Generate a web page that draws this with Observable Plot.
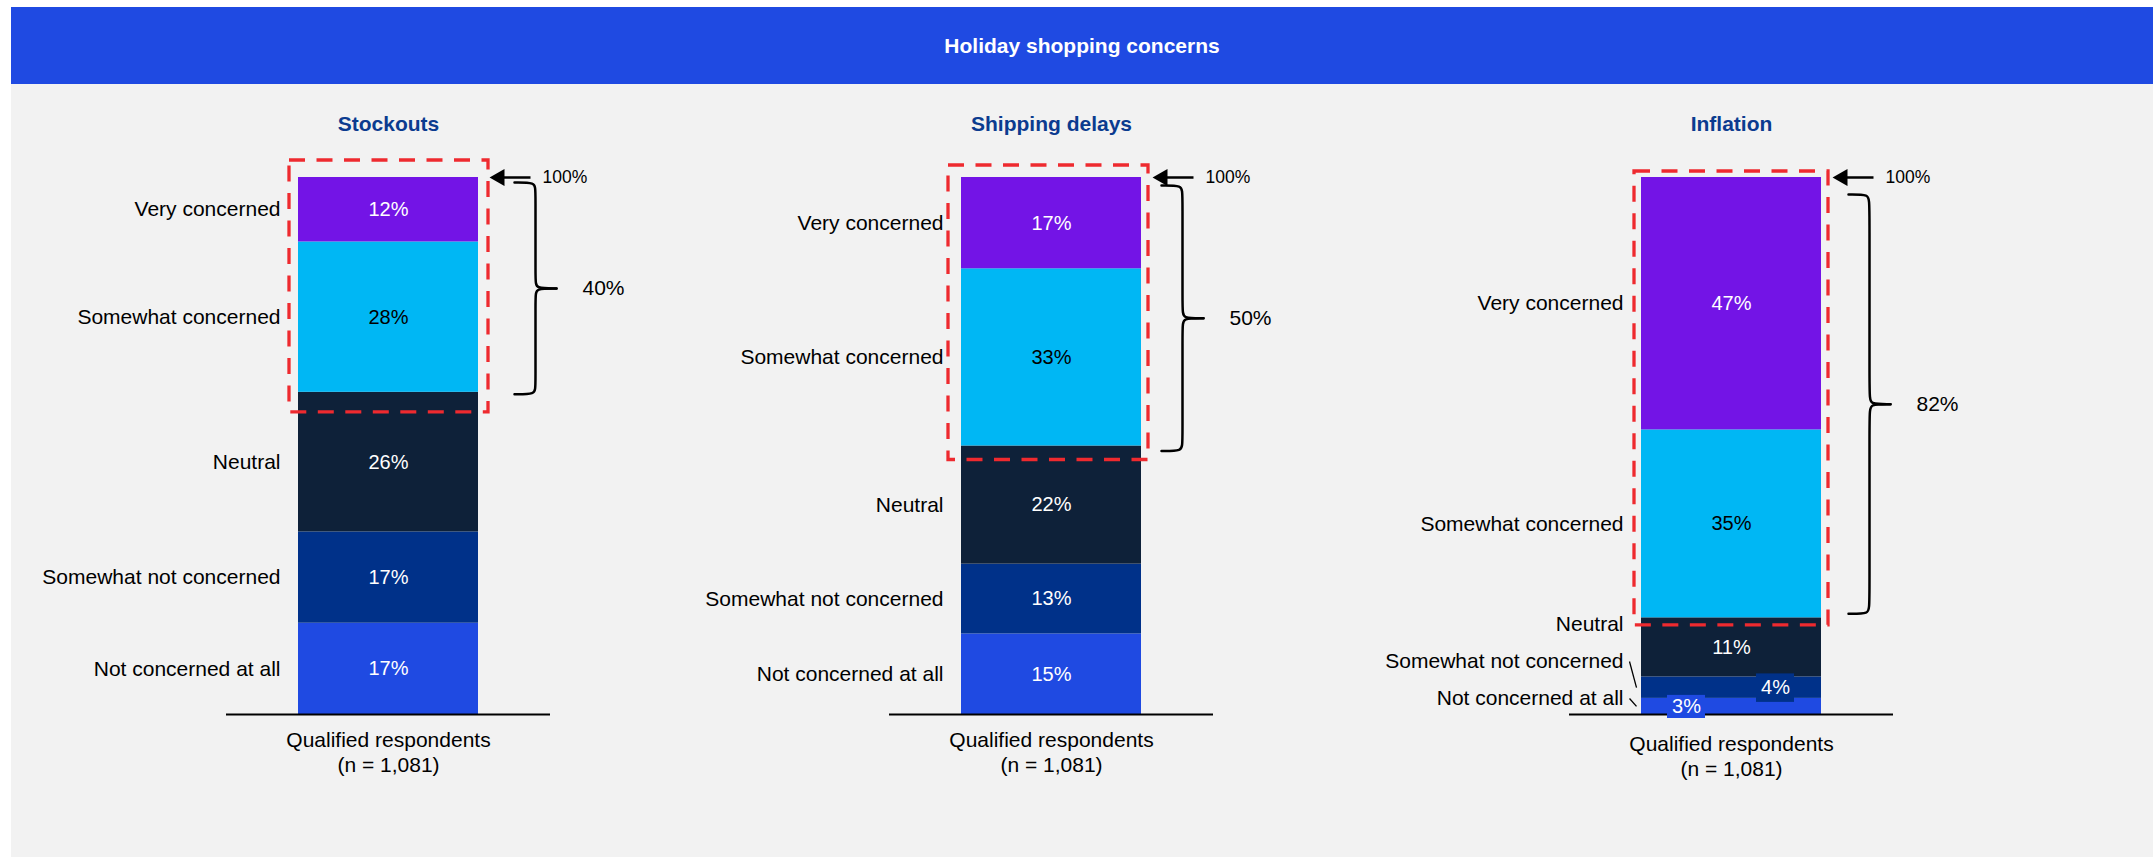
<!DOCTYPE html>
<html>
<head>
<meta charset="utf-8">
<script src="https://cdn.jsdelivr.net/npm/d3@7"></script>
<script src="https://cdn.jsdelivr.net/npm/@observablehq/plot@0.6"></script>
<style>
  html, body { margin: 0; padding: 0; background: #ffffff; }
  body { width: 2153px; height: 858px; overflow: hidden; position: relative;
         font-family: "Liberation Sans", Arial, sans-serif; }
  #frame { position: absolute; left: 11px; top: 7px; width: 2142px; height: 850px; background: #f2f2f2; }
  #header { position: absolute; left: 0; top: 0; width: 2142px; height: 77px; background: #1f4ae2;
            color: #ffffff; font-weight: bold; font-size: 21px;
            display: flex; align-items: center; justify-content: center; }
  .panel { position: absolute; top: 77px; }
  .panel svg { overflow: visible; }
</style>
</head>
<body>
<div id="frame"><div id="header"></div></div>
<script>
// ---------------- data ----------------
const chartTitle = "Holiday shopping concerns";
const topics = ["Stockouts", "Shipping delays", "Inflation"];
const levels = ["Very concerned", "Somewhat concerned", "Neutral", "Somewhat not concerned", "Not concerned at all"];
const stockouts = [12, 28, 26, 17, 17];
const shippingDelays = [17, 33, 22, 13, 15];
const inflation = [47, 35, 11, 4, 3];
const concernedShare = [40, 50, 82];
const baseLabel = "Qualified respondents";
const sampleSizes = ["1,081", "1,081", "1,081"];

// ---------------- styling / layout ----------------
const series = [stockouts, shippingDelays, inflation];
const levelColors = ["#7314e6", "#00b7f4", "#0e2139", "#003189", "#1f4ae2"];
const darkInk = new Set(["Somewhat concerned"]);
const titleColor = "#0b3b8f";
const red = "#ee2a2f";
const FONT = '"Liberation Sans", Arial, sans-serif';
const PANEL_W = 660, PANEL_H = 773;
const M = {top: 93, bottom: 143, left: 270, right: 210};
const BAR = PANEL_W - M.left - M.right;          // bar width in px
const panelLeft = [17, 680, 1360];
const boxInset = [{l: 9, r: 10, t: 17, b: 20}, {l: 13, r: 7, t: 12, b: 14}, {l: 7, r: 7, t: 6, b: 7.5}];
const braceStart = [36, 20, 27];
const braceTopGap = [5, 8, 17];      // px below the 100% line
const braceBottomGap = [-2, -5, 4];  // px above the block boundary
const baseLabelDy = [14.5, 14.5, 18.5];
const smallShift = [44, -45];

document.getElementById("header").textContent = chartTitle;

function panel(p) {
  const values = series[p];
  const total = d3.sum(values);
  const ux = 1 / BAR;                                   // x units per px
  const uy = 100 / (PANEL_H - M.top - M.bottom);        // y units per px

  // rows bottom-first
  const rows = levels.map((level, i) => ({level, value: values[i]})).reverse();
  let acc = 0;
  for (const r of rows) { r.y1 = acc; r.y2 = acc + r.value; r.mid = acc + r.value / 2; acc += r.value; r.small = r.value < 5; }
  // dodge category labels so they keep a minimum spacing
  let prev = -Infinity;
  for (const r of rows) {
    const lo = prev === -Infinity ? 16 * uy : prev + 37 * uy;
    r.labelY = Math.max(r.mid, lo);
    prev = r.labelY;
  }
  const smallRows = rows.filter(r => r.small).reverse(); // top-first
  smallRows.forEach((r, k) => { r.lx = 0.5 + smallShift[k % 2] * ux; });

  const share = concernedShare[p];
  const boundary = total - share;                       // concerned block sits on top
  const bi = boxInset[p];
  const e = 1 + braceStart[p] * ux, v = e + 21 * ux, tip = e + 42 * ux;
  const bTop = total - braceTopGap[p] * uy, bBot = boundary + braceBottomGap[p] * uy;
  const bMid = (bTop + bBot) / 2, rr = 7 * uy;
  const brace = [
    {h: 0, x: e, y: bTop}, {h: 0, x: v, y: bTop}, {h: 0, x: v, y: bTop - rr},
    {h: 0, x: v, y: bMid + rr}, {h: 0, x: v, y: bMid}, {h: 0, x: tip, y: bMid},
    {h: 1, x: tip, y: bMid}, {h: 1, x: v, y: bMid}, {h: 1, x: v, y: bMid - rr},
    {h: 1, x: v, y: bBot + rr}, {h: 1, x: v, y: bBot}, {h: 1, x: e, y: bBot}
  ];

  return Plot.plot({
    width: PANEL_W, height: PANEL_H,
    marginTop: M.top, marginBottom: M.bottom, marginLeft: M.left, marginRight: M.right,
    x: {domain: [0, 1], axis: null},
    y: {domain: [0, 100], axis: null},
    color: {domain: levels, range: levelColors},
    style: {background: "transparent", fontFamily: FONT, overflow: "visible"},
    marks: [
      Plot.rectY(rows, Plot.stackY({x1: 0, x2: 1, y: "value", fill: "level"})),
      Plot.ruleY([0], {x1: -0.4, x2: 1.4, stroke: "#000", strokeWidth: 2}),
      // value labels
      Plot.text(rows.filter(r => !r.small && !darkInk.has(r.level)),
        {x: 0.5, y: "mid", text: d => d.value + "%", fill: "#ffffff", fontSize: 20}),
      Plot.text(rows.filter(r => !r.small && darkInk.has(r.level)),
        {x: 0.5, y: "mid", text: d => d.value + "%", fill: "#000000", fontSize: 20}),
      Plot.rect(smallRows, {x1: d => d.lx - 19 * ux, x2: d => d.lx + 19 * ux, y1: "y1", y2: "y2",
        fill: "level", insetTop: -3, insetBottom: -4}),
      Plot.text(smallRows, {x: "lx", y: "mid", text: d => d.value + "%", fill: "#ffffff", fontSize: 20}),
      // category labels + leaders
      Plot.text(rows, {x: 0, y: "labelY", text: "level", textAnchor: "end", dx: -18, fontSize: 21, fill: "#000"}),
      Plot.link(rows.filter(r => r.small), {x1: -12 * ux, y1: "labelY", x2: -5 * ux, y2: "mid",
        stroke: "#000", strokeWidth: 1.3}),
      // dashed highlight box around the concerned block
      Plot.rect([boundary], {x1: 0, x2: 1, y1: d => d, y2: total,
        insetLeft: -bi.l, insetRight: -bi.r, insetTop: -bi.t, insetBottom: -bi.b,
        fill: "none", stroke: red, strokeWidth: 3.3, strokeDasharray: "16,11.5"}),
      // 100% arrow
      Plot.link([total], {x1: 1 + 52 * ux, x2: 1 + 21 * ux, y1: d => d, y2: d => d, stroke: "#000", strokeWidth: 2.5}),
      Plot.dot([total], {x: 1 + 21 * ux, y: d => d, symbol: "triangle", r: 6.4, rotate: -90, fill: "#000", stroke: "none"}),
      Plot.text([total], {x: 1 + 64 * ux, y: d => d, text: d => d + "%", textAnchor: "start", fontSize: 17.5, fill: "#000"}),
      // brace + share label
      Plot.line(brace, {x: "x", y: "y", z: "h", curve: "basis", stroke: "#000", strokeWidth: 2.5}),
      Plot.text([share], {x: e + 68 * ux, y: bMid, text: d => d + "%", textAnchor: "start", fontSize: 21, fill: "#000"}),
      // titles
      Plot.text([topics[p]], {x: 0.5, frameAnchor: "top", dy: -61, text: d => d, fontSize: 21, fontWeight: "bold", fill: titleColor}),
      Plot.text([`${baseLabel}\n(n = ${sampleSizes[p]})`], {x: 0.5, y: 0, text: d => d, lineAnchor: "top", dy: baseLabelDy[p],
        lineHeight: 1.2, fontSize: 21, fill: "#000"})
    ]
  });
}

const frame = document.getElementById("frame");
topics.forEach((t, p) => {
  const div = document.createElement("div");
  div.className = "panel";
  div.style.left = panelLeft[p] + "px";
  div.appendChild(panel(p));
  frame.appendChild(div);
});
</script>
</body>
</html>
